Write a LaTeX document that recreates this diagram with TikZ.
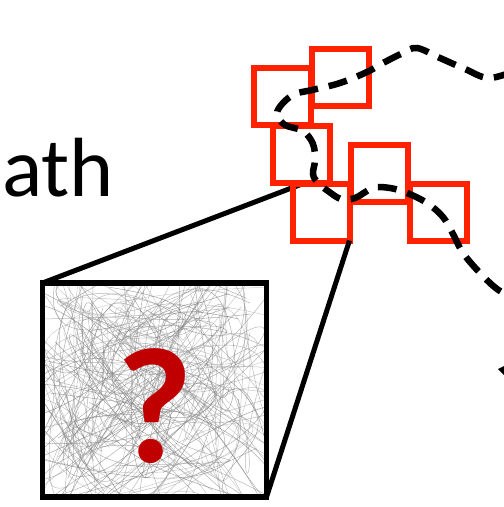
\documentclass[tikz,border=0pt]{standalone}
\usepackage{fontspec}
\setmainfont{Carlito}
\begin{document}
\begin{tikzpicture}[x=1pt,y=-1pt,
  redsq/.style={draw=redc,line width=6pt,minimum width=57pt,minimum height=57pt,inner sep=0pt,outer sep=0pt},
  conn/.style={line width=5pt,black},
  pathline/.style={line width=6.5pt,dash pattern=on 19pt off 11pt,black},
  greybox/.style={draw=black,line width=5.5pt,minimum width=224pt,minimum height=214pt,inner sep=0pt,outer sep=0pt}]
\definecolor{redc}{RGB}{255,34,0}
\definecolor{qred}{RGB}{192,0,0}
\useasboundingbox (0,0) rectangle (504,507);
\clip (0,0) rectangle (504,507);
% text
\node[anchor=base west,inner sep=0pt,font=\fontsize{84}{90}\selectfont] (lbl) at (2,196) {ath};
% grey box with texture
\node[greybox] (box) at (154.5,390) {};
\begin{scope}
\clip (box.north west) rectangle (box.south east);
\pgfmathsetseed{11}
\foreach \i in {1,...,140}{
  \pgfmathsetmacro{\ax}{0+rnd*310}
  \pgfmathsetmacro{\ay}{240+rnd*300}
  \pgfmathsetmacro{\bx}{0+rnd*310}
  \pgfmathsetmacro{\by}{240+rnd*300}
  \pgfmathsetmacro{\cx}{-60+rnd*430}
  \pgfmathsetmacro{\cy}{190+rnd*400}
  \pgfmathsetmacro{\dx}{-60+rnd*430}
  \pgfmathsetmacro{\dy}{190+rnd*400}
  \pgfmathsetmacro{\g}{30+rnd*30}
  \draw[black!\g,line width=0.5pt,opacity=0.6] (\ax,\ay) .. controls (\cx,\cy) and (\dx,\dy) .. (\bx,\by);
}
\end{scope}
\node[greybox] at (box.center) {};
\node[text=qred,font=\fontsize{165}{165}\selectfont\bfseries,inner sep=0pt] (q) at (155,406) {?};
% connectors
\coordinate (c1) at (302,184);
\draw[conn] (c1) -- (box.north west);
% red squares
\node[redsq] (A) at (282.5,96.5) {};
\node[redsq] (B) at (340.5,77) {};
\node[redsq] (C) at (301.5,154.5) {};
\node[redsq] (D) at (321,212) {};
\node[redsq] (E) at (379.5,173.5) {};
\node[redsq] (F) at (438,212) {};
\draw[conn] (D.south east) -- (box.south east);
% dashed path
\draw[pathline,line cap=butt] plot[smooth,tension=0.6] coordinates {
 (512,72) (488,78) (465,69) (440,58) (417,48) (403,53) (383,63) (367,72)
 (340,83) (312,90) (295,94) (283,103) (277,114) (285,125) (303,131)
 (313,144) (315,160) (313,174) (318,183) (328,191) (341,199) (355,198)
 (373,188) (390,188) (407,193) (427,203) (443,217) (453,234) (463,253)
 (480,273) (497,289) (512,297)};
% arrow tip at right edge
\coordinate (t1) at (498,369);
\fill (t1) -- (506,365) -- (506,377) -- cycle;
\end{tikzpicture}
\end{document}
